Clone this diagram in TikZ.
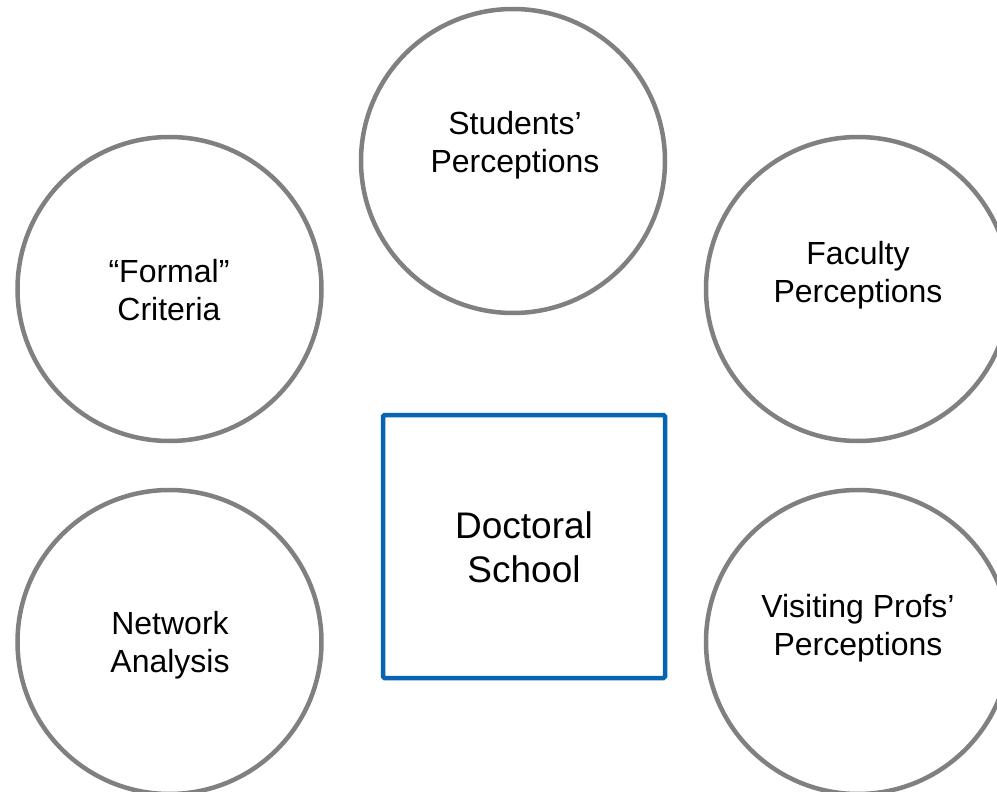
\documentclass[tikz,border=0pt]{standalone}
\usepackage{fontspec}
\setmainfont{Liberation Sans}
\definecolor{ringgray}{RGB}{128,128,128}
\definecolor{boxblue}{RGB}{6,101,178}
\begin{document}
\begin{tikzpicture}[x=1pt,y=-1pt,
  ring/.style={draw=ringgray,line width=4.5pt,fill=white},
  ringtext/.style={align=center,inner sep=0pt,font=\fontsize{32}{38}\selectfont},
  hubbox/.style={draw=boxblue,line width=4.5pt,fill=white,rounded corners=1.5pt},
  hubtext/.style={align=center,inner sep=0pt,font=\fontsize{37}{44}\selectfont}]
  \useasboundingbox (0,0) rectangle (997,792);
  \clip (0,0) rectangle (997,792);
  % outer rings
  \draw[ring] (513,161) circle (152);
  \draw[ring] (169.5,289) circle (152);
  \draw[ring] (858,289) circle (152);
  \draw[ring] (169.5,642) circle (152);
  \draw[ring] (858,642) circle (152);
  % centre box
  \draw[hubbox] (383,415) rectangle (665,678);
  % labels
  \node[ringtext] (students) at (515,145) {Students’\\Perceptions};
  \node[ringtext] (formal) at (169,290) {“Formal”\\Criteria};
  \node[ringtext] (faculty) at (858,275) {Faculty\\Perceptions};
  \node[ringtext] (network) at (170,645) {Network\\Analysis};
  \node[ringtext] (visiting) at (858,628) {Visiting Profs’\\Perceptions};
  \node[hubtext] (school) at (524,547) {Doctoral\\School};
\end{tikzpicture}
\end{document}
